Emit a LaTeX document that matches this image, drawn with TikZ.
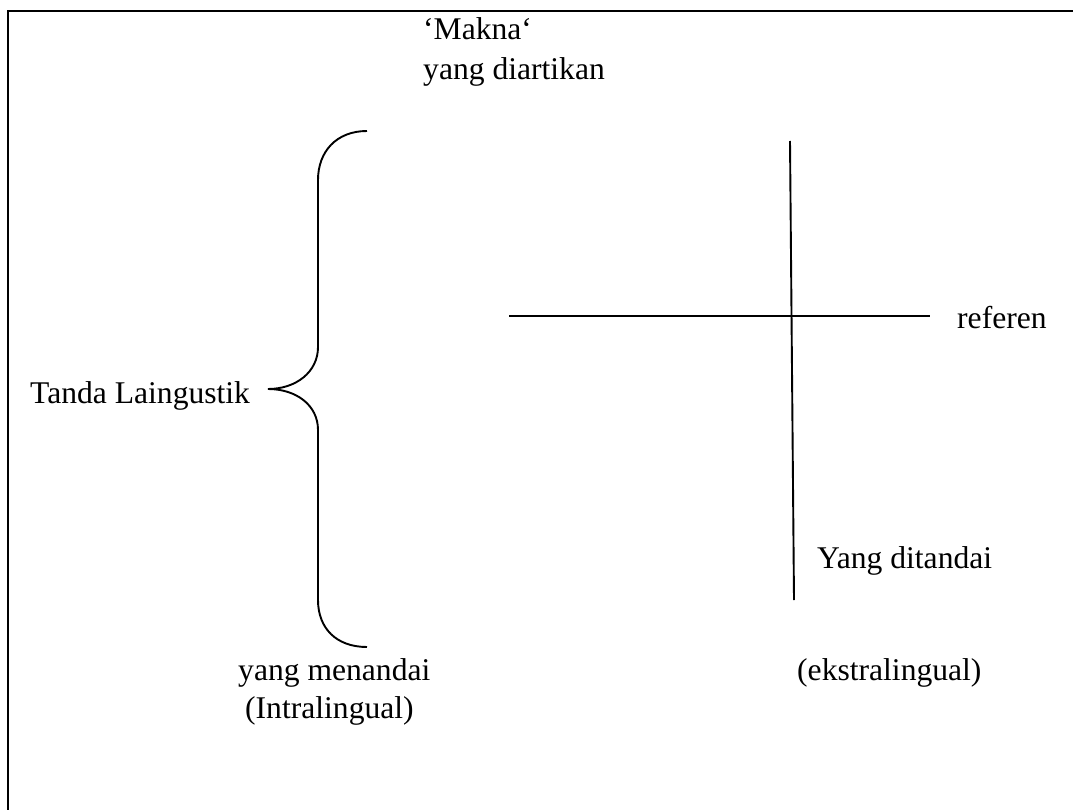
\documentclass[tikz,border=0pt]{standalone}
\usepackage{fontspec}
\setmainfont{Liberation Serif}
\begin{document}
\begin{tikzpicture}[x=1pt,y=-1pt,
  lbl/.style={anchor=base west,inner sep=0pt,font=\fontsize{31.6}{38}\selectfont},
  thin line/.style={line width=1.9pt,black},
  frame line/.style={line width=2.7pt,black}]
\useasboundingbox (0,0) rectangle (1073,810);
\fill[white] (0,0) rectangle (1073,810);
% frame (only top and left edges visible)
\draw[frame line] (8,815) -- (8,11) -- (1080,11);
% texts
\node[lbl] (makna) at (423,40) {‘Makna‘};
\node[lbl] (diartikan) at (423,80) {yang diartikan};
\node[lbl] (tanda) at (30,403) {Tanda Laingustik};
\node[lbl] (menandai) at (238,680) {yang menandai};
\node[lbl] (intra) at (245,718) {(Intralingual)};
\node[lbl] (referen) at (957,328) {referen};
\node[lbl] (ditandai) at (817,568) {Yang ditandai};
\node[lbl] (ekstra) at (797,680) {(ekstralingual)};
% brace
\coordinate (btop) at (367,131);
\coordinate (btip) at (268,389);
\coordinate (bbot) at (367,647);
\draw[thin line] (btop) .. controls (336,131) and (318,152) .. (318,180)
  -- (318,347) .. controls (318,372) and (296,389) .. (btip)
  .. controls (296,389) and (318,405) .. (318,430)
  -- (318,600) .. controls (318,628) and (336,647) .. (bbot);
% cross
\coordinate (hl) at (509,316);
\coordinate (hr) at (930,316);
\coordinate (vt) at (790,141);
\coordinate (vb) at (794,600);
\draw[thin line] (hl) -- (hr);
\draw[thin line] (vt) -- (vb);
\end{tikzpicture}
\end{document}
